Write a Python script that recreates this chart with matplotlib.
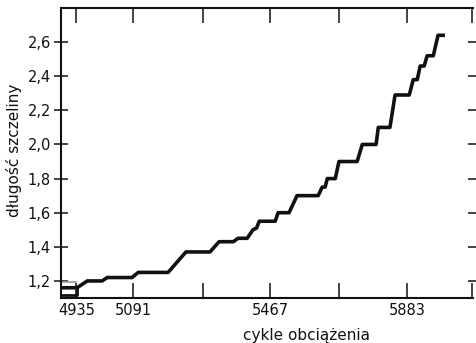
import matplotlib
matplotlib.use("Agg")
import matplotlib.pyplot as plt
from matplotlib.ticker import FixedLocator, FixedFormatter

# Crack length growth vs. load cycles (staircase record)
cycles = [4893, 4937, 4965, 5006, 5020, 5088, 5105, 5187, 5236, 5302,
          5327, 5366, 5379, 5404, 5420, 5430, 5437, 5481, 5489, 5519,
          5541, 5599, 5610, 5618, 5624, 5646, 5656, 5706, 5720, 5758,
          5764, 5796, 5810, 5849, 5860, 5871, 5879, 5890, 5898, 5915,
          5928, 5947]
length = [1.16, 1.16, 1.20, 1.20, 1.22, 1.22, 1.25, 1.25, 1.37, 1.37,
          1.43, 1.43, 1.45, 1.45, 1.50, 1.51, 1.55, 1.55, 1.60, 1.60,
          1.70, 1.70, 1.75, 1.75, 1.80, 1.80, 1.90, 1.90, 2.00, 2.00,
          2.10, 2.10, 2.29, 2.29, 2.38, 2.38, 2.46, 2.46, 2.52, 2.52,
          2.64, 2.64]

# initial bracket at the start of the record
start_cycles = [4893, 4937, 4937]
start_length = [1.118, 1.118, 1.16]
ref_cycles = [4893, 4933]
ref_length = [1.195, 1.195]

x_ticks = [4935, 5091, 5283, 5467, 5656, 5843, 6021]
x_labels = ["4935", "5091", "", "5467", "", "5883", ""]
y_ticks = [1.2, 1.4, 1.6, 1.8, 2.0, 2.2, 2.4, 2.6]
y_labels = ["1,2", "1,4", "1,6", "1,8", "2,0", "2,2", "2,4", "2,6"]

fig = plt.figure(figsize=(4.77, 3.43), dpi=100)
ax = fig.add_axes([61 / 477, 45 / 343, 412 / 477, 290 / 343])

ax.plot(cycles, length, color="#111111", lw=2.6, solid_joinstyle="round",
        solid_capstyle="butt")
ax.plot(start_cycles, start_length, color="#111111", lw=2.0)
ax.plot(ref_cycles, ref_length, color="#9a9a9a", lw=1.2)

ax.set_xlim(4893, 6024)
ax.set_ylim(1.1, 2.8)

ax.xaxis.set_major_locator(FixedLocator(x_ticks))
ax.xaxis.set_major_formatter(FixedFormatter(x_labels))
ax.yaxis.set_major_locator(FixedLocator(y_ticks))
ax.yaxis.set_major_formatter(FixedFormatter(y_labels))

for side in ("left", "bottom", "top"):
    ax.spines[side].set_linewidth(1.5)
    ax.spines[side].set_color("#111111")
ax.spines["right"].set_visible(False)

ax.tick_params(axis="x", which="both", direction="in", length=10.5,
               width=1.1, top=True, bottom=True, pad=3.5,
               labelsize=10.5, colors="#111111")
ax.tick_params(axis="y", which="both", direction="in", length=9.5,
               width=1.1, left=True, pad=2.5, labelsize=10.5,
               colors="#111111")
ax.tick_params(axis="y", which="both", right=True, direction="inout")
for t in ax.yaxis.get_ticklines()[1::2]:
    t.set_markersize(7)

ax.set_xlabel("cykle obciążenia", fontsize=11, color="#111111")
ax.set_ylabel("długość szczeliny", fontsize=11, color="#111111")
ax.xaxis.set_label_coords(0.595, -0.105)
ax.yaxis.set_label_coords(-0.095, 0.51)

fig.savefig("out.png", dpi=100, facecolor="white")
